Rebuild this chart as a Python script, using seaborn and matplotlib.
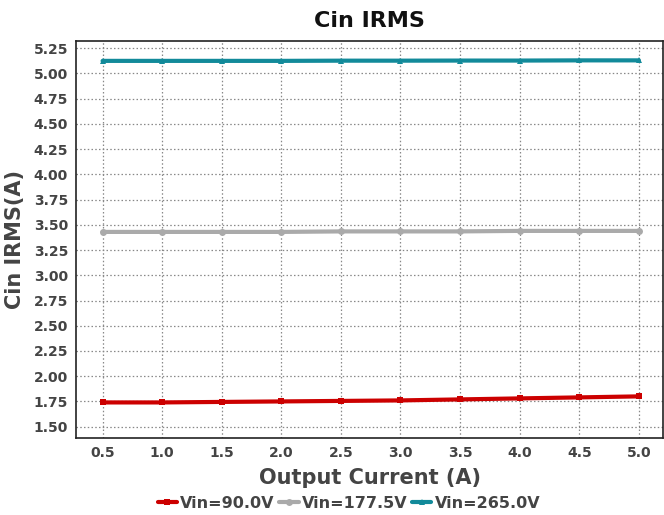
import matplotlib
matplotlib.use("Agg")
import matplotlib.pyplot as plt
import seaborn as sns
import pandas as pd

currents = [0.5, 1.0, 1.5, 2.0, 2.5, 3.0, 3.5, 4.0, 4.5, 5.0]
vin90 = [1.74, 1.74, 1.745, 1.75, 1.755, 1.76, 1.77, 1.78, 1.79, 1.80]
vin177 = [3.43, 3.43, 3.43, 3.43, 3.435, 3.435, 3.435, 3.44, 3.44, 3.44]
vin265 = [5.125, 5.125, 5.125, 5.125, 5.127, 5.127, 5.128, 5.128, 5.13, 5.13]
series_names = ["Vin=90.0V", "Vin=177.5V", "Vin=265.0V"]
colors = ["#cc0000", "#aaaaaa", "#128a9a"]
markers = ["s", "o", "^"]
yticks = [1.50, 1.75, 2.00, 2.25, 2.50, 2.75, 3.00, 3.25, 3.50, 3.75, 4.00, 4.25, 4.50, 4.75, 5.00, 5.25]

rows = []
for name, vals in zip(series_names, [vin90, vin177, vin265]):
    for c, v in zip(currents, vals):
        rows.append({"Output Current (A)": c, "Cin IRMS(A)": v, "series": name})
df = pd.DataFrame(rows)

sns.set_style("white")
plt.rcParams['font.family'] = ['DejaVu Sans']
fig, ax = plt.subplots(figsize=(6.64, 5.15), dpi=100)
sns.lineplot(data=df, x="Output Current (A)", y="Cin IRMS(A)", hue="series",
             style="series", markers=markers, dashes=False, palette=colors,
             linewidth=3, markersize=5, markeredgewidth=0, ax=ax)

ax.set_xlim(0.28, 5.2)
ax.set_ylim(1.39, 5.32)
ax.set_xticks(currents)
ax.set_xticklabels([f"{c:.1f}" for c in currents])
ax.set_yticks(yticks)
ax.set_yticklabels([f"{t:.2f}" for t in yticks])
ax.grid(True, color="#888888", linestyle=(0, (1.2, 1.8)), linewidth=0.9)
for s in ax.spines.values():
    s.set_color("#222222")
    s.set_linewidth(1.2)
ax.tick_params(axis="both", labelsize=10, colors="#444444", length=0, pad=6)
for lab in ax.get_xticklabels() + ax.get_yticklabels():
    lab.set_fontweight("bold")
ax.set_title("Cin IRMS", fontsize=16, fontweight="bold", color="#111111", pad=10)
ax.set_xlabel("Output Current (A)", fontsize=15, fontweight="bold", color="#444444", labelpad=6)
ax.set_ylabel("Cin IRMS(A)", fontsize=15, fontweight="bold", color="#444444", labelpad=6)

handles, labels = ax.get_legend_handles_labels()
ax.legend(handles, labels, loc="upper center", bbox_to_anchor=(0.465, -0.11), ncol=3,
          frameon=False, handlelength=1.2, handletextpad=0.2,
          columnspacing=0.3, prop={"weight": "bold", "size": 11.5})
leg = ax.get_legend()
for t in leg.get_texts():
    t.set_color("#444444")

fig.subplots_adjust(left=0.115, right=0.998, top=0.92, bottom=0.15)
fig.savefig("out.png", dpi=100)
